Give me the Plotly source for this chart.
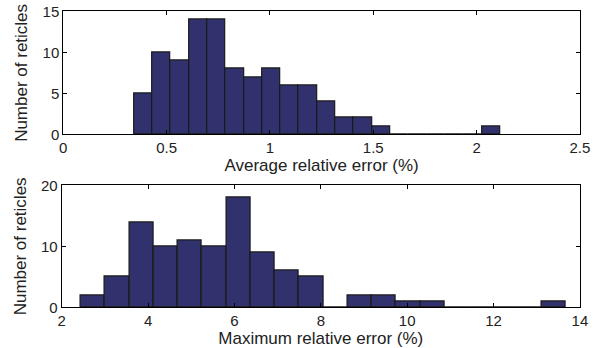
import numpy as np
import plotly.graph_objects as go

# Top histogram: average relative error (%)
avg_bin_start = 0.342
avg_bin_width = 0.0886
avg_counts = [5, 10, 9, 14, 14, 8, 7, 8, 6, 6, 4, 2, 2, 1, 0, 0, 0, 0, 0, 1]

# Bottom histogram: maximum relative error (%)
max_bin_start = 2.44
max_bin_width = 0.5615
max_counts = [2, 5, 14, 10, 11, 10, 18, 9, 6, 5, 0, 2, 2, 1, 1, 0, 0, 0, 0, 1]

avg_ticks = [0, 0.5, 1, 1.5, 2, 2.5]
avg_ticktext = ["0", "0.5", "1", "1.5", "2", "2.5"]
max_ticks = [2, 4, 6, 8, 10, 12, 14]
avg_yticks = [0, 5, 10, 15]
max_yticks = [0, 10, 20]

FILL = "#31316E"
EDGE = "#1a1a1a"
FONT = "Liberation Sans, Arial, Helvetica, sans-serif"

avg_x = avg_bin_start + avg_bin_width * (np.arange(len(avg_counts)) + 0.5)
max_x = max_bin_start + max_bin_width * (np.arange(len(max_counts)) + 0.5)

fig = go.Figure()
fig.add_trace(go.Bar(x=avg_x, y=avg_counts, width=avg_bin_width,
                     marker=dict(color=FILL, line=dict(color=EDGE, width=1.2)),
                     xaxis="x", yaxis="y", showlegend=False))
fig.add_trace(go.Bar(x=max_x, y=max_counts, width=max_bin_width,
                     marker=dict(color=FILL, line=dict(color=EDGE, width=1.2)),
                     xaxis="x2", yaxis="y2", showlegend=False))

axis_common = dict(showline=True, linecolor="black", linewidth=1, mirror="ticks",
                   ticks="inside", ticklen=4, tickcolor="black", showgrid=False,
                   zeroline=False, automargin=False,
                   tickfont=dict(size=15, color="#222"))

TITLE_FONT = dict(size=17, color="#222")

fig.update_layout(
    width=593, height=348,
    margin=dict(l=0, r=0, t=0, b=0),
    paper_bgcolor="white", plot_bgcolor="white",
    font=dict(family=FONT, size=15, color="#222"),
    bargap=0,
    xaxis=dict(domain=[0.1067, 0.978], range=[0, 2.5], tickvals=avg_ticks,
               ticktext=avg_ticktext, anchor="y",
               title=dict(text="Average relative error (%)", standoff=0,
                          font=TITLE_FONT), **axis_common),
    yaxis=dict(domain=[0.614, 0.967], range=[0, 15], tickvals=avg_yticks,
               anchor="x",
               title=dict(text="Number of reticles", standoff=10,
                          font=TITLE_FONT), **axis_common),
    xaxis2=dict(domain=[0.104, 0.978], range=[2, 14], tickvals=max_ticks,
                anchor="y2",
                title=dict(text="Maximum relative error (%)", standoff=0,
                           font=TITLE_FONT), **axis_common),
    yaxis2=dict(domain=[0.117, 0.467], range=[0, 20], tickvals=max_yticks,
                anchor="x2",
                title=dict(text="Number of reticles", standoff=10,
                           font=TITLE_FONT), **axis_common),
)

fig.write_html("out.html")
